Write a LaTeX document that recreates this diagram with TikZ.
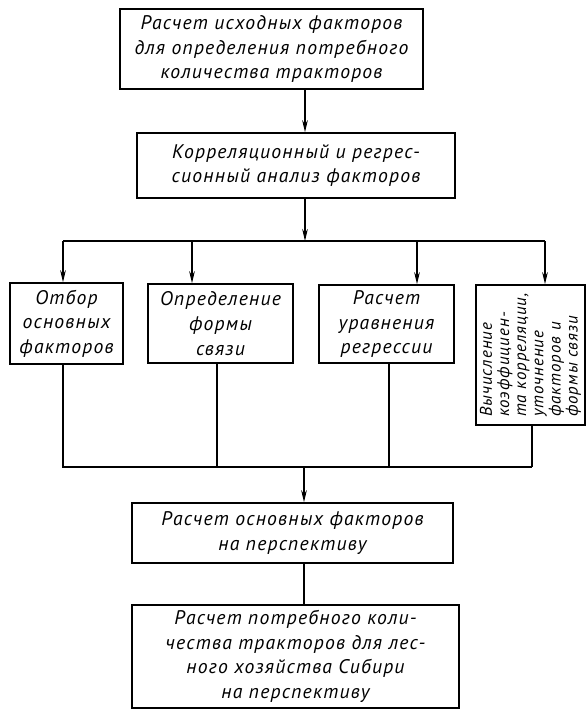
\documentclass[tikz,border=0pt]{standalone}
\usepackage{fontspec}
\setmainfont{PT Sans}[LetterSpace=6]
\usetikzlibrary{positioning, arrows.meta, calc}
\tikzset{
  stagebox/.style={
    draw=black, line width=1.1pt,
    fill=white,
    inner sep=2pt,
    align=center,
    font=\fontsize{14}{17.5}\selectfont\itshape
  },
  sidebox/.style={
    stagebox,
    rotate=90,
    inner sep=1pt,
    align=left,
    font=\fontsize{12}{12.2}\selectfont\itshape
  },
  feed/.style={
    -{Stealth[length=3mm,width=1.4mm]},
    line width=1.1pt
  },
  link/.style={
    line width=1.1pt
  }
}

\begin{document}
\begin{tikzpicture}[x=0.025cm, y=-0.025cm]
  \useasboundingbox (0,0) rectangle (586,711);

  % main column
  \node[stagebox, minimum width=7.575cm, minimum height=2cm] (init) at (271.5,49)
    {Расчет исходных факторов\\для определения потребного\\количества тракторов};
  \node[stagebox, minimum width=7.95cm, minimum height=1.625cm] (corr) at (296,165.5)
    {Корреляционный и регрес-\\сионный анализ факторов};

  % four parallel steps
  \node[stagebox, minimum width=2.825cm, minimum height=2.025cm] (pick) at (66.5,323.5)
    {Отбор\\основных\\факторов};
  \node[stagebox, minimum width=3.625cm, minimum height=1.975cm] (form) at (220.5,323.5)
    {Определение\\формы\\связи};
  \node[stagebox, minimum width=3.375cm, minimum height=1.95cm] (regr) at (386.5,324)
    {Расчет\\уравнения\\регрессии};
  \node[sidebox, minimum width=3.5cm, minimum height=2.725cm] (coef) at (530.5,355)
    {Вычисление\\коэффициен-\\та корреляции,\\уточнение\\факторов и\\формы связи};

  \node[stagebox, minimum width=8.025cm, minimum height=1.5cm] (main) at (292.5,533)
    {Расчет основных факторов\\на перспективу};
  \node[stagebox, minimum width=8.175cm, minimum height=2.575cm] (need) at (295.5,656.5)
    {Расчет потребного коли-\\чества тракторов для лес-\\ного хозяйства Сибири\\на перспективу};

  % junctions
  \coordinate (split) at (305,241);
  \coordinate (merge) at (304,467);
  \coordinate (d1) at (63,0);
  \coordinate (d2) at (192,0);
  \coordinate (d3) at (417,0);
  \coordinate (d4) at (545,0);
  \coordinate (u1) at (63,0);
  \coordinate (u2) at (217,0);
  \coordinate (u3) at (389,0);
  \coordinate (u4) at (532,0);

  \draw[feed] (init.south -| split) -- (corr.north -| split);
  \draw[feed] (corr.south -| split) -- (split);
  \draw[link] (split -| d1) -- (split -| d4);
  \foreach \d/\b in {d1/pick, d2/form, d3/regr}
    \draw[feed] (split -| \d) -- (\b.north -| \d);
  \draw[feed] (split -| d4) -- (coef.east -| d4);

  \draw[link] (pick.south -| u1) -- (merge -| u1) -- (merge -| u4);
  \foreach \u/\b in {u2/form, u3/regr}
    \draw[link] (\b.south -| \u) -- (merge -| \u);
  \draw[link] (coef.west -| u4) -- (merge -| u4);
  \draw[feed] (merge) -- (main.north -| merge);
  \draw[link] (main.south -| merge) -- (need.north -| merge);
\end{tikzpicture}
\end{document}
